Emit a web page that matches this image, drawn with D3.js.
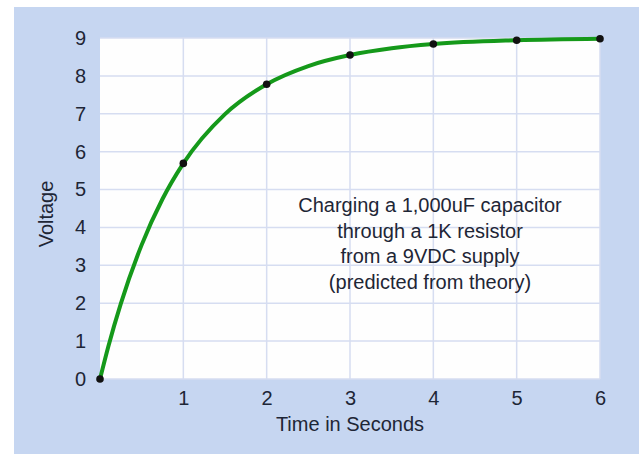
<!DOCTYPE html>
<html><head><meta charset="utf-8">
<script src="https://cdn.jsdelivr.net/npm/d3@7"></script>
<style>body{margin:0;background:#fff}svg{display:block}</style>
</head><body>
<svg id="c" width="639" height="454"></svg>
<script>
// measured points (dots)
const times = [0, 1, 2, 3, 4, 5, 6];
const voltages = [0, 5.69, 7.78, 8.55, 8.84, 8.94, 8.98];
// smooth curve
const curveTimes = [0, 0.1, 0.25, 0.5, 0.75, 1, 1.5, 2, 2.5, 3, 3.5, 4, 5, 6];
const curveVolts = [0, 0.86, 1.99, 3.54, 4.75, 5.69, 6.99, 7.78, 8.26, 8.55, 8.73, 8.84, 8.94, 8.98];
const xTicks = [1, 2, 3, 4, 5, 6];
const yTicks = [0, 1, 2, 3, 4, 5, 6, 7, 8, 9];
const xTitle = "Time in Seconds";
const yTitle = "Voltage";
const note = ["Charging a 1,000uF capacitor", "through a 1K resistor", "from a 9VDC supply", "(predicted from theory)"];

const svg = d3.select("#c");
svg.append("rect").attr("x", 14).attr("y", 7).attr("width", 625).attr("height", 447).attr("fill", "#c6d6f1");
const L = 100, R = 600, T = 38, B = 379;
const x = d3.scaleLinear().domain([0, 6]).range([L, R]);
const y = d3.scaleLinear().domain([0, 9]).range([B, T]);
svg.append("rect").attr("x", L).attr("y", T).attr("width", R - L).attr("height", B - T).attr("fill", "#fefefe");
const g = svg.append("g");
g.selectAll(".gx").data(xTicks).join("line").attr("x1", d => x(d)).attr("x2", d => x(d)).attr("y1", T).attr("y2", B).attr("stroke", "#d6ddf1").attr("stroke-width", 1.5);
g.selectAll(".gy").data(yTicks).join("line").attr("x1", L).attr("x2", R).attr("y1", d => y(d)).attr("y2", d => y(d)).attr("stroke", "#d6ddf1").attr("stroke-width", 1.5);

const font = "'Liberation Sans', Arial, sans-serif";
const tc = "#1e2636";
const xa = svg.append("g").attr("transform", `translate(0,${B + 9})`).call(d3.axisBottom(x).tickValues(xTicks).tickSize(0).tickFormat(d3.format("d")));
xa.select(".domain").remove();
xa.selectAll("text").attr("font-family", font).attr("font-size", 20).attr("fill", tc);
const ya = svg.append("g").attr("transform", `translate(${L - 11},0)`).call(d3.axisLeft(y).tickValues(yTicks).tickSize(0).tickFormat(d3.format("d")));
ya.select(".domain").remove();
ya.selectAll("text").attr("font-family", font).attr("font-size", 20).attr("fill", tc);

svg.append("text").attr("x", 350).attr("y", 431).attr("text-anchor", "middle").attr("font-family", font).attr("font-size", 20).attr("fill", tc).text(xTitle);
svg.append("text").attr("transform", "translate(53,214) rotate(-90)").attr("text-anchor", "middle").attr("font-family", font).attr("font-size", 20).attr("fill", tc).text(yTitle);

const cdata = curveTimes.map((t, i) => ({t, v: curveVolts[i]}));
svg.append("path").datum(cdata).attr("fill", "none").attr("stroke", "#15991a").attr("stroke-width", 4)
  .attr("d", d3.line().x(d => x(d.t)).y(d => y(d.v)).curve(d3.curveMonotoneX));
const data = times.map((t, i) => ({t, v: voltages[i]}));
svg.selectAll(".dot").data(data).join("circle").attr("cx", d => x(d.t)).attr("cy", d => y(d.v)).attr("r", 3.8).attr("fill", "#111");

svg.append("text").attr("x", 430).attr("y", 212).attr("text-anchor", "middle").attr("font-family", font).attr("font-size", 20).attr("fill", tc)
  .selectAll("tspan").data(note).join("tspan").attr("x", 430).attr("dy", (d, i) => i ? 25.7 : 0).text(d => d);
</script>
</body></html>
